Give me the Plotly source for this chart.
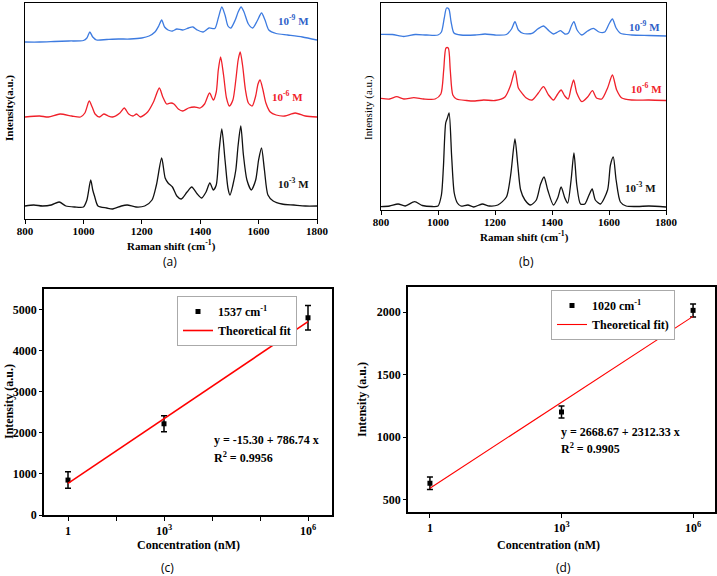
import plotly.graph_objects as go

# ---------------- Panel (a) spectra (wavenumber, intensity in a.u.) ----------------
a_black_x = [800, 830, 860, 890, 917, 940, 970, 1000, 1012, 1025, 1032, 1038, 1050, 1080, 1100, 1130, 1150, 1180, 1210,
             1235, 1250, 1268, 1280, 1290, 1305, 1320, 1335, 1355, 1371, 1390, 1405, 1420, 1433, 1445, 1455, 1465, 1474,
             1485, 1495, 1502, 1512, 1522, 1530, 1539, 1548, 1560, 1575, 1590, 1600, 1610, 1620, 1632, 1650, 1680, 1720,
             1760, 1800]
a_black_y = [13, 14, 13, 14, 17, 13, 12, 12, 19, 39, 29, 23, 13, 11, 10, 13, 14, 12, 13,
             19, 34, 61, 41, 36, 32, 23, 20, 27, 32, 25, 21, 27, 36, 29, 34, 69, 90,
             59, 31, 24, 34, 49, 74, 93, 64, 39, 29, 39, 59, 71, 49, 24, 18, 15, 14,
             13, 13]

a_red_x = [800, 850, 880, 920, 960, 990, 1005, 1020, 1030, 1040, 1055, 1070, 1085, 1100, 1125, 1140, 1155, 1170, 1182,
           1195, 1220, 1240, 1260, 1272, 1285, 1300, 1310, 1325, 1340, 1360, 1380, 1400, 1415, 1432, 1445, 1455, 1462,
           1470, 1480, 1490, 1500, 1512, 1522, 1530, 1537, 1545, 1555, 1565, 1578, 1590, 1598, 1605, 1615, 1625, 1640,
           1660, 1690, 1725, 1760, 1800]
a_red_y = [102, 103, 102, 105, 103, 102, 106, 118, 112, 105, 102, 105, 103, 102, 106, 111, 105, 103, 105,
           102, 107, 117, 131, 122, 115, 116, 115, 110, 108, 111, 112, 111, 115, 126, 119, 127, 149,
           162, 144, 121, 113, 119, 139, 159, 167, 154, 129, 116, 113, 123, 135, 139, 129, 116, 107,
           104, 103, 106, 103, 102]

a_blue_x = [800, 850, 900, 950, 1000, 1012, 1022, 1032, 1045, 1080, 1120, 1160, 1200, 1225, 1245, 1258, 1268, 1278,
            1290, 1305, 1320, 1340, 1360, 1375, 1390, 1410, 1430, 1450, 1462, 1474, 1485, 1495, 1505, 1520, 1530,
            1540, 1550, 1565, 1580, 1595, 1610, 1622, 1635, 1660, 1700, 1750, 1800]
a_blue_y = [177, 177, 177.5, 178, 178.5, 181, 187, 182, 179, 179.5, 180, 180, 181, 183, 187, 193, 199, 192,
            189, 188, 190, 189, 191, 192, 189, 187, 191, 190.5, 201, 212, 204, 193, 191, 199, 207,
            212, 207, 195, 191, 198, 206, 199, 189, 185.5, 184, 182, 179]

# ---------------- Panel (b) spectra ----------------
b_black_x = [800, 830, 860, 885, 918, 945, 980, 1000, 1012, 1019, 1027, 1033, 1039, 1048, 1057, 1068, 1080, 1105, 1125,
             1155, 1180, 1210, 1240, 1255, 1270, 1280, 1290, 1305, 1325, 1345, 1360, 1372, 1385, 1405, 1420, 1432,
             1445, 1455, 1467, 1477, 1487, 1500, 1515, 1530, 1541, 1552, 1570, 1595, 1605, 1615, 1625, 1640, 1660,
             1700, 1740, 1800]
b_black_y = [3.3, 4, 6, 4, 8.3, 4.5, 3.5, 4, 15, 43, 87, 92, 97, 53, 17, 7, 4, 5, 3,
             6, 4, 5, 13, 35, 71, 45, 20, 10, 5, 10, 26, 33, 20, 5, 12, 23,
             12, 7, 30, 57, 25, 6, 6, 15, 21, 10, 6, 20, 45, 53, 30, 8, 4,
             3.5, 4, 3]

b_red_x = [800, 830, 855, 880, 915, 950, 990, 1010, 1020, 1028, 1036, 1043, 1052, 1065, 1100, 1130, 1160, 1200, 1235,
           1255, 1270, 1282, 1295, 1310, 1330, 1352, 1370, 1388, 1405, 1420, 1432, 1445, 1457, 1467, 1476, 1487,
           1505, 1525, 1542, 1556, 1575, 1595, 1612, 1627, 1645, 1680, 1740, 1800]
b_red_y = [111.7, 111, 113.3, 111, 112.3, 111, 111, 116, 140, 162, 162, 140, 115, 111, 109.5, 109, 110, 109.5, 113,
           125, 139.3, 122, 116.7, 112, 110, 117, 123.3, 115, 110, 116, 120, 114, 111, 122, 130, 117,
           108.3, 113, 119.3, 112, 111, 122, 135, 120, 112, 110, 110, 109.5]

b_blue_x = [800, 840, 880, 920, 960, 1000, 1012, 1022, 1030, 1038, 1046, 1056, 1080, 1130, 1165, 1200, 1240, 1258,
            1270, 1282, 1300, 1330, 1350, 1370, 1390, 1405, 1420, 1430, 1445, 1458, 1468, 1477, 1488, 1505, 1525,
            1545, 1565, 1585, 1600, 1612, 1625, 1640, 1680, 1740, 1800]
b_blue_y = [175.7, 175.5, 173.5, 175.5, 175, 175, 178, 192, 202, 201, 188, 177, 175, 175, 176, 175, 175.5, 181,
            188.3, 180, 176.5, 176.7, 181, 184, 179, 176, 178, 179.3, 176, 177, 184, 188.3, 180, 175, 179,
            181.7, 178, 178, 186, 191, 182, 176.7, 175, 174.5, 174]

# ---------------- Panel (c) ----------------
c_x = [1, 3, 6]
c_y = [850, 2220, 4800]
c_err = [200, 195, 300]
c_fit_x = [1, 6]
c_fit_y = [771, 4705]
c_tickvals = [1, 2, 3, 4, 5, 6]
c_ticktext = ["1", "", "10<sup>3</sup>", "", "", "10<sup>6</sup>"]

# ---------------- Panel (d) ----------------
d_x = [0, 3, 6]
d_y = [630, 1200, 2013]
d_err = [50, 48, 52]
d_fit_x = [0, 6]
d_fit_y = [590, 1965]
d_tickvals = [0, 3, 6]
d_ticktext = ["1", "10<sup>3</sup>", "10<sup>6</sup>"]

W, H = 717, 576
SERIF = "Liberation Serif"
BLUE = "#3d7be0"
RED = "#f0202a"
BLACK = "#111111"


def px(x):
    return x / W


def py(y):
    return 1 - y / H


fig = go.Figure()

lw = 1.3
spl = dict(shape="spline", smoothing=0.7)
fig.add_trace(go.Scatter(x=a_blue_x, y=a_blue_y, mode="lines", line=dict(color=BLUE, width=lw, **spl), xaxis="x", yaxis="y", showlegend=False))
fig.add_trace(go.Scatter(x=a_red_x, y=a_red_y, mode="lines", line=dict(color=RED, width=lw, **spl), xaxis="x", yaxis="y", showlegend=False))
fig.add_trace(go.Scatter(x=a_black_x, y=a_black_y, mode="lines", line=dict(color=BLACK, width=lw, **spl), xaxis="x", yaxis="y", showlegend=False))

fig.add_trace(go.Scatter(x=b_blue_x, y=b_blue_y, mode="lines", line=dict(color=BLUE, width=lw, **spl), xaxis="x2", yaxis="y2", showlegend=False))
fig.add_trace(go.Scatter(x=b_red_x, y=b_red_y, mode="lines", line=dict(color=RED, width=lw, **spl), xaxis="x2", yaxis="y2", showlegend=False))
fig.add_trace(go.Scatter(x=b_black_x, y=b_black_y, mode="lines", line=dict(color=BLACK, width=lw, **spl), xaxis="x2", yaxis="y2", showlegend=False))

fig.add_trace(go.Scatter(x=c_x, y=c_y, mode="markers", name="1537 cm<sup>-1</sup>",
                         marker=dict(symbol="square", size=5, color="black"),
                         error_y=dict(type="data", array=c_err, color="black", thickness=1.5, width=3),
                         xaxis="x3", yaxis="y3", legend="legend"))
fig.add_trace(go.Scatter(x=c_fit_x, y=c_fit_y, mode="lines", name="Theoretical fit",
                         line=dict(color="red", width=1.6), xaxis="x3", yaxis="y3", legend="legend"))

fig.add_trace(go.Scatter(x=d_x, y=d_y, mode="markers", name="1020 cm<sup>-1</sup>",
                         marker=dict(symbol="square", size=5, color="black"),
                         error_y=dict(type="data", array=d_err, color="black", thickness=1.5, width=3),
                         xaxis="x4", yaxis="y4", legend="legend2"))
fig.add_trace(go.Scatter(x=d_fit_x, y=d_fit_y, mode="lines", name="Theoretical fit)",
                         line=dict(color="red", width=1.1), xaxis="x4", yaxis="y4", legend="legend2"))

tickfont = dict(family=SERIF, size=11, color="black", weight="bold")
tickfont12 = dict(family=SERIF, size=12, color="black", weight="bold")
box = dict(showline=True, linecolor="black", linewidth=1, mirror=True, showgrid=False, zeroline=False, automargin=False)
box2 = dict(showline=True, linecolor="black", linewidth=1.5, mirror=True, showgrid=False, zeroline=False, automargin=False)

fig.update_layout(
    width=W, height=H, autosize=False,
    margin=dict(l=0, r=0, t=0, b=0, pad=0, autoexpand=False),
    paper_bgcolor="white", plot_bgcolor="white",
    xaxis=dict(domain=[px(25), px(317)], range=[800, 1800], anchor="y",
               tickvals=[800, 1000, 1200, 1400, 1600, 1800], ticks="outside", ticklen=4,
               ticklabelstandoff=-2, tickcolor="black", tickfont=tickfont, **box),
    yaxis=dict(domain=[py(219), py(3)], range=[0, 216], anchor="x", showticklabels=False, ticks="", **box),
    xaxis2=dict(domain=[px(381), px(666)], range=[800, 1800], anchor="y2",
                tickvals=[800, 1000, 1200, 1400, 1600, 1800], ticks="outside", ticklen=4,
                ticklabelstandoff=-2, tickcolor="black", tickfont=tickfont, **box),
    yaxis2=dict(domain=[py(210), py(3)], range=[0, 207], anchor="x2", showticklabels=False, ticks="", **box),
    xaxis3=dict(domain=[px(44), px(332)], range=[0.5, 6.5], anchor="y3",
                tickvals=c_tickvals, ticktext=c_ticktext, ticks="outside", ticklen=4,
                tickcolor="black", tickfont=tickfont12, **box2),
    yaxis3=dict(domain=[py(515), py(289)], range=[0, 5500], anchor="x3",
                tickvals=[0, 1000, 2000, 3000, 4000, 5000], ticks="outside", ticklen=3,
                tickcolor="black", tickfont=tickfont12, **box2),
    xaxis4=dict(domain=[px(408), px(715)], range=[-0.5, 6.5], anchor="y4",
                tickvals=d_tickvals, ticktext=d_ticktext, ticks="outside", ticklen=4,
                tickcolor="black", tickfont=tickfont12, **box2),
    yaxis4=dict(domain=[py(512), py(287)], range=[400, 2200], anchor="x4",
                tickvals=[500, 1000, 1500, 2000], ticks="outside", ticklen=3,
                tickcolor="black", tickfont=tickfont12, **box2),
    legend=dict(x=px(177), y=py(296), xanchor="left", yanchor="top",
                bgcolor="white", bordercolor="#aaaaaa", borderwidth=1,
                font=dict(family=SERIF, size=12, color="black", weight="bold"),
                tracegroupgap=0, itemwidth=30),
    legend2=dict(x=px(551), y=py(290), xanchor="left", yanchor="top",
                 bgcolor="white", bordercolor="#aaaaaa", borderwidth=1,
                 font=dict(family=SERIF, size=12, color="black", weight="bold"),
                 tracegroupgap=0, itemwidth=30),
)

annotations = []


def ann(text, x, y, size=12, color="black", bold=True, angle=0, xanchor="center", family=SERIF, xref="paper", yref="paper"):
    annotations.append(dict(text=text, x=x, y=y, xref=xref, yref=yref, showarrow=False,
                            xanchor=xanchor, yanchor="middle", textangle=angle,
                            font=dict(family=family, size=size, color=color, weight="bold" if bold else "normal")))


# spectrum labels (data coordinates)
ann("10<sup>-9</sup> M", 1718, 199, size=11, color="#2f5fc8", xref="x", yref="y")
ann("10<sup>-6</sup> M", 1700, 123, size=11, color=RED, xref="x", yref="y")
ann("10<sup>-3</sup> M", 1718, 36, size=11, color=BLACK, xref="x", yref="y")
ann("10<sup>-9</sup> M", 1726, 184, size=11, color="#2f5fc8", xref="x2", yref="y2")
ann("10<sup>-6</sup> M", 1732, 121.7, size=11, color=RED, xref="x2", yref="y2")
ann("10<sup>-3</sup> M", 1711, 23.3, size=11, color=BLACK, xref="x2", yref="y2")

# axis titles
ann("Raman shift (cm<sup>-1</sup>)", px(171), py(246), size=11)
ann("Raman shift (cm<sup>-1</sup>)", px(524), py(237), size=11)
ann("Intensity(a.u.)", px(9), py(108), size=11, angle=-90)
ann("Intensity (a.u.)", px(369), py(107), size=11, angle=-90, bold=False)
ann("Intensity (a.u.)", px(9), py(402), size=12, angle=-90)
ann("Intensity (a.u.)", px(362), py(400), size=12, angle=-90)
ann("Concentration (nM)", px(188), py(545), size=12)
ann("Concentration (nM)", px(548), py(545), size=12)

# fit equations
ann("y = -15.30 + 786.74 x", px(212), py(440), size=12, xanchor="left")
ann("R<sup>2</sup> = 0.9956", px(212), py(457), size=12, xanchor="left")
ann("y = 2668.67 + 2312.33 x", px(559), py(432), size=12, xanchor="left")
ann("R<sup>2</sup> = 0.9905", px(559), py(448), size=12, xanchor="left")

# panel labels
ann("(a)", px(170), py(261), size=12, bold=False, family="Open Sans")
ann("(b)", px(526), py(261), size=12, bold=False, family="Open Sans")
ann("(c)", px(167), py(567), size=12, bold=False, family="Open Sans")
ann("(d)", px(563), py(567), size=12, bold=False, family="Open Sans")

fig.update_layout(annotations=annotations)

fig.write_html("out.html", config={"responsive": False, "displayModeBar": False},
               post_script="document.body.style.margin='0';document.body.style.overflow='hidden';")
